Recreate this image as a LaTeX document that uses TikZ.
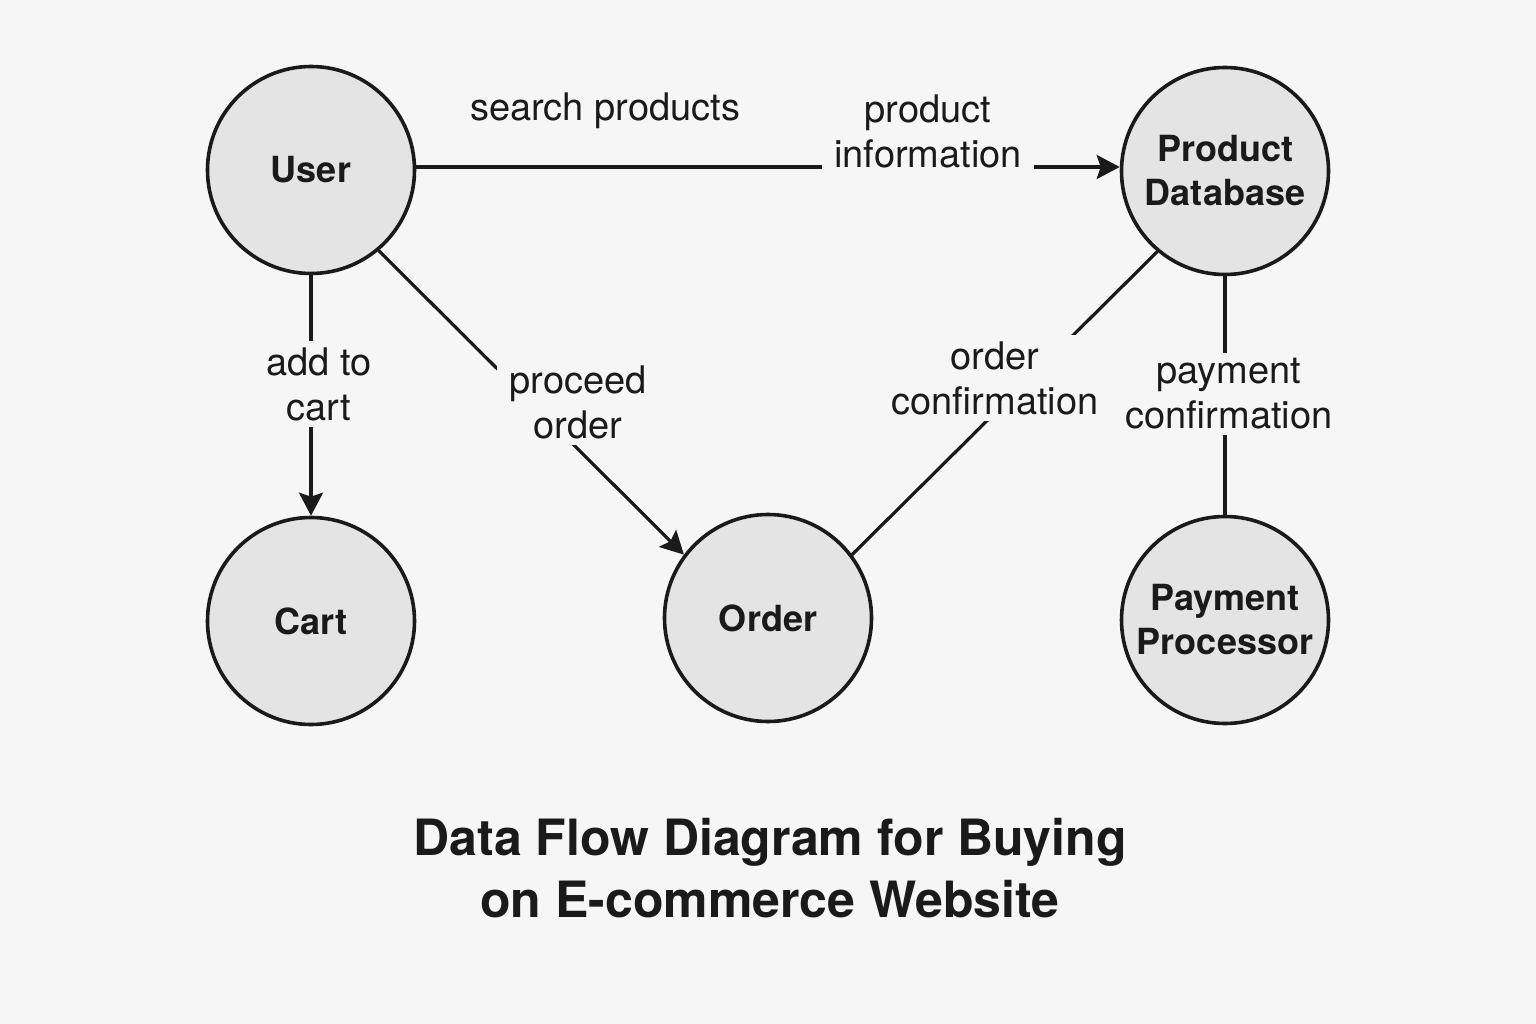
\documentclass[tikz,border=0pt]{standalone}
\usepackage{fontspec}
\setmainfont{TeX Gyre Heros}
\usetikzlibrary{arrows.meta}
\definecolor{bg}{HTML}{F6F6F6}
\definecolor{nodefill}{HTML}{E4E4E4}
\definecolor{ink}{HTML}{1A1A1A}
\begin{document}
\begin{tikzpicture}[x=1pt,y=-1pt,
  proc/.style={circle, draw=ink, line width=3.6pt, fill=nodefill, minimum size=207pt, inner sep=0pt, align=center, font=\bfseries\fontsize{36}{44}\selectfont, text=ink},
  flow/.style={draw=ink, line width=3.2pt},
  arr/.style={flow, -{Stealth[length=23pt,width=24pt,inset=4pt]}},
  lab/.style={fill=bg, align=center, font=\fontsize{38}{45}\selectfont, text=ink, inner xsep=12pt, inner ysep=6pt},
  plainlab/.style={align=center, font=\fontsize{38}{45}\selectfont, text=ink}]
\fill[bg] (0,0) rectangle (1536,1024);
\useasboundingbox (0,0) rectangle (1536,1024);
\node[proc] (user) at (311,170) {User};
\node[proc] (pdb) at (1225,171) {Product\\Database};
\node[proc] (cart) at (311,621) {Cart};
\node[proc] (order) at (768,618) {Order};
\node[proc] (pay) at (1225,620) {Payment\\Processor};
\draw[arr] ([yshift=3pt]user.east) -- ([yshift=4pt]pdb.west);
\draw[arr] (user) -- (cart);
\draw[arr] (user.-50) -- (order.143);
\draw[flow] (order.37) -- (pdb.230);
\draw[flow] (pdb) -- (pay);
\node[plainlab] (l1) at (605,111) {search products};
\node[lab] (l2) at (928,131) {product\\information};
\node[lab] (l3) at (319,384) {add to\\cart};
\node[lab] (l4) at (578,402) {proceed\\order};
\node[lab] (l5) at (995,378) {order\\confirmation};
\node[lab] (l6) at (1229,394) {payment\\confirmation};
\node[align=center, text=ink, font=\bfseries\fontsize{50}{62}\selectfont] (title) at (770,868) {Data Flow Diagram for Buying\\on E-commerce Website};
\end{tikzpicture}
\end{document}
